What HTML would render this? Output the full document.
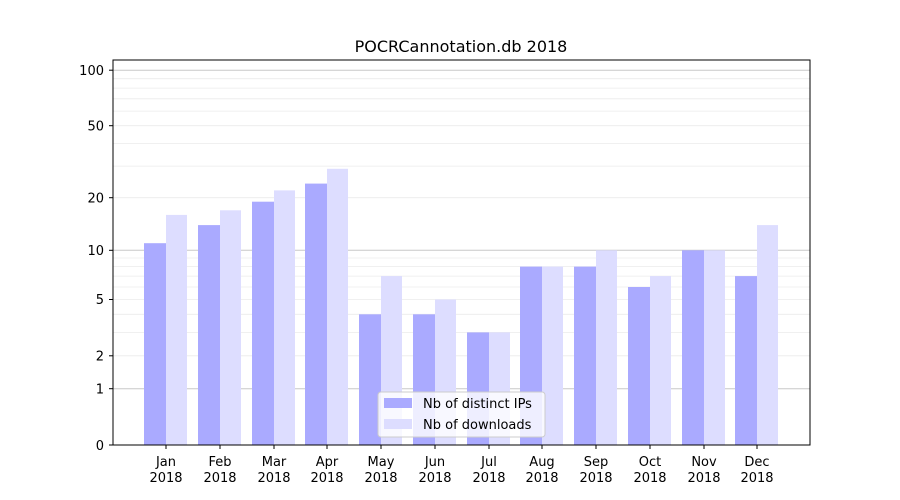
<!DOCTYPE html>
<html><head><meta charset="utf-8"><style>body{margin:0;background:#fff}svg{display:block}text{font-family:"DejaVu Sans","Liberation Sans",sans-serif;fill:#000}</style></head><body>
<svg width="900" height="500" viewBox="0 0 900 500" xmlns="http://www.w3.org/2000/svg">
<rect width="900" height="500" fill="#fff"/>
<g stroke="#ebebeb" stroke-width="0.8">
<line x1="113" x2="810" y1="355.8" y2="355.8"/><line x1="113" x2="810" y1="332.4" y2="332.4"/><line x1="113" x2="810" y1="314.3" y2="314.3"/><line x1="113" x2="810" y1="299.5" y2="299.5"/><line x1="113" x2="810" y1="287" y2="287"/><line x1="113" x2="810" y1="276.1" y2="276.1"/><line x1="113" x2="810" y1="266.6" y2="266.6"/><line x1="113" x2="810" y1="258" y2="258"/>
<line x1="113" x2="810" y1="197.7" y2="197.7"/><line x1="113" x2="810" y1="166.1" y2="166.1"/><line x1="113" x2="810" y1="143.4" y2="143.4"/><line x1="113" x2="810" y1="125.7" y2="125.7"/><line x1="113" x2="810" y1="111.1" y2="111.1"/><line x1="113" x2="810" y1="98.8" y2="98.8"/><line x1="113" x2="810" y1="88.1" y2="88.1"/><line x1="113" x2="810" y1="78.7" y2="78.7"/>
</g>
<g stroke="#c8c8c8" stroke-width="1">
<line x1="113" x2="810" y1="388.7" y2="388.7"/><line x1="113" x2="810" y1="250.3" y2="250.3"/><line x1="113" x2="810" y1="70.2" y2="70.2"/>
</g>
<g fill="#aaaaff">
<rect x="144" y="243.2" width="22" height="201.8"/>
<rect x="198" y="225.1" width="22" height="219.9"/>
<rect x="252" y="201.7" width="22" height="243.3"/>
<rect x="305" y="183.6" width="22" height="261.4"/>
<rect x="359" y="314.3" width="22" height="130.7"/>
<rect x="413" y="314.3" width="22" height="130.7"/>
<rect x="467" y="332.4" width="22" height="112.6"/>
<rect x="520" y="266.6" width="22" height="178.4"/>
<rect x="574" y="266.6" width="22" height="178.4"/>
<rect x="628" y="287" width="22" height="158"/>
<rect x="682" y="250.3" width="22" height="194.7"/>
<rect x="735" y="276.1" width="22" height="168.9"/>
</g>
<g fill="#ddddff">
<rect x="166" y="214.9" width="21" height="230.1"/>
<rect x="220" y="210.3" width="21" height="234.7"/>
<rect x="274" y="190.4" width="21" height="254.6"/>
<rect x="327" y="168.8" width="21" height="276.2"/>
<rect x="381" y="276.1" width="21" height="168.9"/>
<rect x="435" y="299.5" width="21" height="145.5"/>
<rect x="489" y="332.4" width="21" height="112.6"/>
<rect x="542" y="266.6" width="21" height="178.4"/>
<rect x="596" y="250.3" width="21" height="194.7"/>
<rect x="650" y="276.1" width="21" height="168.9"/>
<rect x="704" y="250.3" width="21" height="194.7"/>
<rect x="757" y="225.1" width="21" height="219.9"/>
</g>
<rect x="113" y="60" width="697" height="385" fill="none" stroke="#000" stroke-width="1"/>
<g stroke="#000" stroke-width="1">
<line x1="109" x2="113" y1="445" y2="445"/><line x1="109" x2="113" y1="388.7" y2="388.7"/><line x1="109" x2="113" y1="355.8" y2="355.8"/><line x1="109" x2="113" y1="299.5" y2="299.5"/><line x1="109" x2="113" y1="250.3" y2="250.3"/><line x1="109" x2="113" y1="197.7" y2="197.7"/><line x1="109" x2="113" y1="125.7" y2="125.7"/><line x1="109" x2="113" y1="70.2" y2="70.2"/>
</g>
<g font-size="13" text-anchor="end">
<text x="104" y="450">0</text><text x="104" y="393.5">1</text><text x="104" y="360.5">2</text><text x="104" y="304">5</text><text x="104" y="255">10</text><text x="104" y="202.5">20</text><text x="104" y="130.5">50</text><text x="104" y="75">100</text>
</g>
<g stroke="#000">
<line x1="166" x2="166" y1="445" y2="449"/><line x1="220" x2="220" y1="445" y2="449"/><line x1="274" x2="274" y1="445" y2="449"/><line x1="327" x2="327" y1="445" y2="449"/><line x1="381" x2="381" y1="445" y2="449"/><line x1="435" x2="435" y1="445" y2="449"/><line x1="489" x2="489" y1="445" y2="449"/><line x1="542" x2="542" y1="445" y2="449"/><line x1="596" x2="596" y1="445" y2="449"/><line x1="650" x2="650" y1="445" y2="449"/><line x1="704" x2="704" y1="445" y2="449"/><line x1="757" x2="757" y1="445" y2="449"/>
</g>
<g font-size="13" text-anchor="middle">
<text x="166" y="466">Jan</text><text x="166" y="482">2018</text>
<text x="220" y="466">Feb</text><text x="220" y="482">2018</text>
<text x="274" y="466">Mar</text><text x="274" y="482">2018</text>
<text x="327" y="466">Apr</text><text x="327" y="482">2018</text>
<text x="381" y="466">May</text><text x="381" y="482">2018</text>
<text x="435" y="466">Jun</text><text x="435" y="482">2018</text>
<text x="489" y="466">Jul</text><text x="489" y="482">2018</text>
<text x="542" y="466">Aug</text><text x="542" y="482">2018</text>
<text x="596" y="466">Sep</text><text x="596" y="482">2018</text>
<text x="650" y="466">Oct</text><text x="650" y="482">2018</text>
<text x="704" y="466">Nov</text><text x="704" y="482">2018</text>
<text x="757" y="466">Dec</text><text x="757" y="482">2018</text>
</g>
<text x="461" y="52" font-size="16" text-anchor="middle">POCRCannotation.db 2018</text>
<rect x="378" y="392" width="167" height="45" rx="3" fill="#fff" fill-opacity="0.8" stroke="#cccccc"/>
<rect x="384" y="398" width="28" height="10" fill="#aaaaff"/>
<rect x="384" y="419" width="28" height="10" fill="#ddddff"/>
<text x="423" y="408" font-size="13">Nb of distinct IPs</text>
<text x="423" y="429" font-size="13">Nb of downloads</text>
</svg>
</body></html>
